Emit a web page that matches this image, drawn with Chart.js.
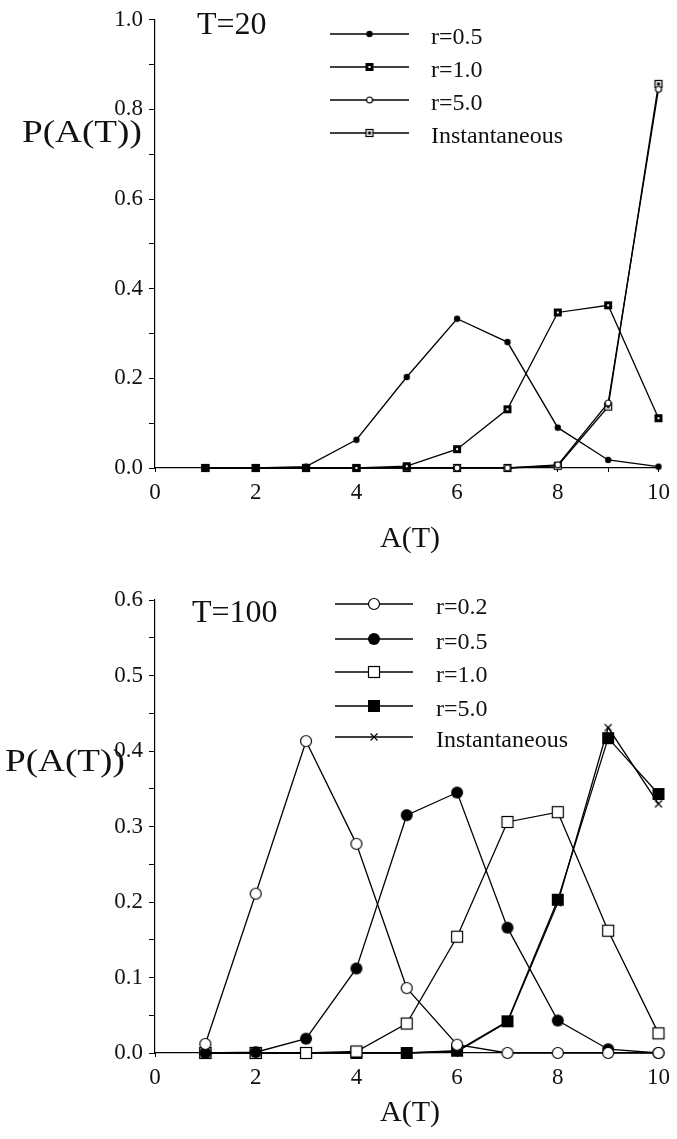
<!DOCTYPE html>
<html>
<head>
<meta charset="utf-8">
<script src="https://cdn.jsdelivr.net/npm/chart.js"></script>
<style>
  html, body { margin: 0; padding: 0; background: #fff; }
  .box { position: absolute; left: 0; width: 677px; }
  #top { top: 0; height: 575px; }
  #bottom { top: 575px; height: 564px; }
</style>
</head>
<body>
<div class="box" id="top"><canvas id="c1"></canvas></div>
<div class="box" id="bottom"><canvas id="c2"></canvas></div>
<script>
// A(T) values on the x axis
const aValues = [1, 2, 3, 4, 5, 6, 7, 8, 9, 10];

// T=20 panel
const t20Labels = ['r=0.5', 'r=1.0', 'r=5.0', 'Instantaneous'];
const t20_r05 = [0, 0, 0.003, 0.063, 0.203, 0.333, 0.281, 0.090, 0.018, 0.003];
const t20_r10 = [0, 0, 0, 0, 0.004, 0.042, 0.131, 0.347, 0.363, 0.111];
const t20_r50 = [0, 0, 0, 0, 0, 0, 0, 0.007, 0.145, 0.845];
const t20_inst = [0, 0, 0, 0, 0, 0, 0, 0.005, 0.137, 0.857];

// T=100 panel
const t100Labels = ['r=0.2', 'r=0.5', 'r=1.0', 'r=5.0', 'Instantaneous'];
const t100_r02 = [0.012, 0.211, 0.413, 0.277, 0.086, 0.011, 0, 0, 0, 0];
const t100_r05 = [0, 0.001, 0.019, 0.112, 0.315, 0.345, 0.166, 0.043, 0.005, 0];
const t100_r10 = [0, 0, 0, 0.002, 0.039, 0.154, 0.306, 0.319, 0.162, 0.026];
const t100_r50 = [0, 0, 0, 0, 0, 0.003, 0.042, 0.203, 0.417, 0.343];
const t100_inst = [0, 0, 0, 0, 0, 0.002, 0.041, 0.199, 0.431, 0.330];

const FONT = '"Liberation Serif", "Times New Roman", serif';

// little marker images, used for points and for the legend
function marker(kind) {
  const c = document.createElement('canvas');
  const s = 16;
  c.width = s; c.height = s;
  const g = c.getContext('2d');
  const m = s / 2;
  g.strokeStyle = '#000';
  g.fillStyle = '#000';
  g.lineWidth = 1.2;
  if (kind === 'dot') {
    g.beginPath(); g.arc(m, m, 3.2, 0, Math.PI * 2); g.fill();
  } else if (kind === 'smallOpenCircle') {
    g.beginPath(); g.arc(m, m, 3, 0, Math.PI * 2);
    g.fillStyle = '#fff'; g.fill(); g.stroke();
  } else if (kind === 'smallFilledSquare') {
    g.fillRect(m - 4, m - 4, 8, 8);
    g.fillStyle = '#fff'; g.fillRect(m - 1, m - 1, 2, 2);
  } else if (kind === 'smallOpenSquare') {
    g.fillStyle = '#fff'; g.fillRect(m - 4, m - 4, 8, 8);
    g.strokeRect(m - 3.5, m - 3.5, 7, 7);
    g.fillStyle = '#000'; g.fillRect(m - 1.5, m - 1.5, 3, 3);
  } else if (kind === 'openCircle') {
    g.beginPath(); g.arc(m, m, 5.5, 0, Math.PI * 2);
    g.fillStyle = '#fff'; g.fill(); g.stroke();
  } else if (kind === 'filledCircle') {
    g.beginPath(); g.arc(m, m, 6, 0, Math.PI * 2); g.fill();
  } else if (kind === 'openSquare') {
    g.fillStyle = '#fff'; g.fillRect(m - 6, m - 6, 12, 12);
    g.strokeRect(m - 5.5, m - 5.5, 11, 11);
  } else if (kind === 'filledSquare') {
    g.fillRect(m - 6, m - 6, 12, 12);
  } else if (kind === 'cross') {
    g.beginPath();
    g.moveTo(m - 3.5, m - 3.5); g.lineTo(m + 3.5, m + 3.5);
    g.moveTo(m + 3.5, m - 3.5); g.lineTo(m - 3.5, m + 3.5);
    g.stroke();
  }
  return c;
}

function makeSet(label, values, kind) {
  return {
    label: label,
    data: aValues.map((a, i) => ({ x: a, y: values[i] })),
    borderColor: '#000',
    borderWidth: 1.3,
    pointStyle: marker(kind),
    pointRadius: 6,
    clip: false,
    fill: false,
    tension: 0
  };
}

// draws the free text and the hand made legend
function decorPlugin(cfg) {
  return {
    id: 'decor',
    afterDraw(chart) {
      const ctx = chart.ctx;
      ctx.save();
      ctx.fillStyle = '#111';
      ctx.textBaseline = 'middle';
      ctx.font = '32px ' + FONT;
      ctx.textAlign = 'left';
      ctx.fillText(cfg.title, cfg.titleX, cfg.titleY);
      // the y title is set wider in the original
      ctx.save();
      ctx.translate(cfg.yTitleX, cfg.yTitleY);
      ctx.scale(1.2, 1);
      ctx.font = '31px ' + FONT;
      ctx.fillText('P(A(T))', 0, 0);
      ctx.restore();
      ctx.textAlign = 'center';
      ctx.font = '30px ' + FONT;
      ctx.fillText('A(T)', 410, cfg.xTitleY);
      // legend
      ctx.textAlign = 'left';
      ctx.font = '24px ' + FONT;
      chart.data.datasets.forEach((ds, i) => {
        const y = cfg.legY[i];
        ctx.strokeStyle = '#000';
        ctx.lineWidth = 1.3;
        ctx.beginPath();
        ctx.moveTo(cfg.legX1, y);
        ctx.lineTo(cfg.legX2, y);
        ctx.stroke();
        const img = ds.pointStyle;
        ctx.drawImage(img, (cfg.legX1 + cfg.legX2) / 2 - img.width / 2, y - img.height / 2);
        ctx.fillText(ds.label, cfg.legTextX, y + 4);
      });
      ctx.restore();
    }
  };
}

function makeChart(id, datasets, yMax, yStep, cfg) {
  return new Chart(document.getElementById(id), {
    type: 'line',
    data: { datasets: datasets },
    options: {
      responsive: true,
      maintainAspectRatio: false,
      animation: false,
      events: [],
      layout: { padding: { top: cfg.padTop, right: 12, left: 0, bottom: 0 } },
      plugins: { legend: { display: false }, tooltip: { enabled: false } },
      scales: {
        x: {
          type: 'linear',
          min: 0, max: 10,
          afterFit: s => { s.height = cfg.xAxisH; },
          border: { color: '#000', width: 1.2 },
          grid: { drawOnChartArea: false, drawTicks: true, tickLength: 4, color: '#000' },
          ticks: {
            stepSize: 1,
            autoSkip: false,
            maxRotation: 0,
            padding: 7,
            color: '#111',
            font: { family: FONT, size: 23 },
            callback: v => (v % 2 === 0 ? String(v) : '')
          }
        },
        y: {
          min: 0, max: yMax,
          afterFit: s => { s.width = 155; },
          border: { color: '#000', width: 1.2 },
          grid: { drawOnChartArea: false, drawTicks: true, tickLength: 6, color: '#000' },
          ticks: {
            stepSize: yStep,
            autoSkip: false,
            padding: 6,
            color: '#111',
            font: { family: FONT, size: 23 },
            callback: v => {
              const k = Math.round(v / yStep);
              return k % 2 === 0 ? v.toFixed(1) : '';
            }
          }
        }
      }
    },
    plugins: [decorPlugin(cfg)]
  });
}

makeChart('c1', [
  makeSet(t20Labels[0], t20_r05, 'dot'),
  makeSet(t20Labels[1], t20_r10, 'smallFilledSquare'),
  makeSet(t20Labels[2], t20_r50, 'smallOpenCircle'),
  makeSet(t20Labels[3], t20_inst, 'smallOpenSquare')
], 1.0, 0.1, {
  padTop: 13, xAxisH: 575 - 468,
  title: 'T=20', titleX: 197, titleY: 26,
  yTitleX: 22, yTitleY: 134, xTitleY: 539,
  legX1: 330, legX2: 409, legTextX: 431, legY: [34, 67, 100, 133]
});

makeChart('c2', [
  makeSet(t100Labels[0], t100_r02, 'openCircle'),
  makeSet(t100Labels[1], t100_r05, 'filledCircle'),
  makeSet(t100Labels[2], t100_r10, 'openSquare'),
  makeSet(t100Labels[3], t100_r50, 'filledSquare'),
  makeSet(t100Labels[4], t100_inst, 'cross')
], 0.6, 0.05, {
  padTop: 25, xAxisH: 564 - 478,
  title: 'T=100', titleX: 192, titleY: 39,
  yTitleX: 5, yTitleY: 188, xTitleY: 538,
  legX1: 335, legX2: 413, legTextX: 436, legY: [29, 64, 97, 131, 162]
});
</script>
</body>
</html>
